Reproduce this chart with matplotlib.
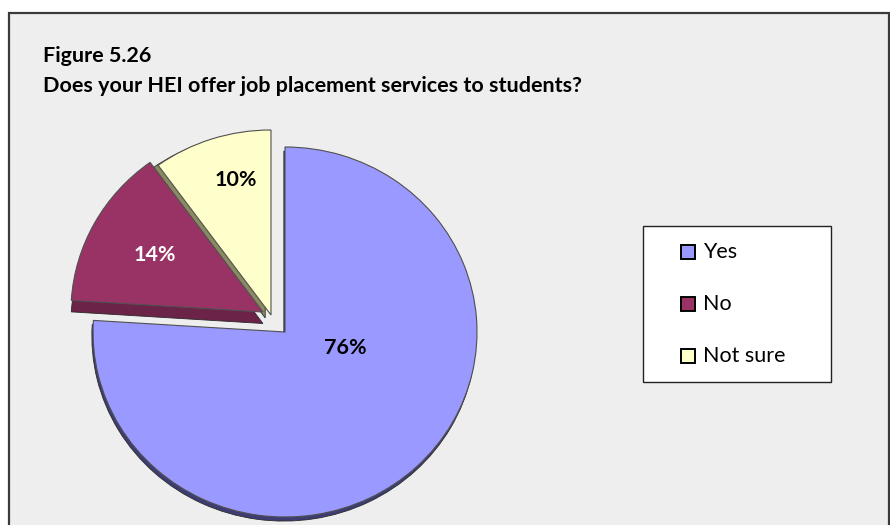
import matplotlib.pyplot as plt
from matplotlib.patches import Rectangle

# survey answers
categories = ["Yes", "No", "Not sure"]
shares = [76, 14, 10]

colors = ["#9999FF", "#993366", "#FFFFCC"]
side_colors = ["#3d3d73", "#6b2347", "#8a8a62"]
label_colors = ["black", "white", "black"]
# slice offsets (pie units) for the pulled-out slices and for their 3d sides
offsets = [(0.0, 0.0), (-0.115, 0.108), (-0.073, 0.092)]
side_shift = [(-0.006, -0.022), (0.0, -0.062), (-0.03, -0.016)]
label_pos = [(345, 348), (155, 255), (236, 180)]  # pixel positions of the % labels

title_lines = ["Figure 5.26", "Does your HEI offer job placement services to students?"]

W, H = 890, 525
plt.rcParams['font.family'] = ['Lato', 'DejaVu Sans']

fig = plt.figure(figsize=(W / 100, H / 100), dpi=100, facecolor="white")

# background axes in pixel units (y grows downward)
bg = fig.add_axes([0, 0, 1, 1], zorder=0)
bg.set_xlim(0, W)
bg.set_ylim(H, 0)
bg.axis("off")
bg.add_patch(Rectangle((9, 13), W - 10, H, facecolor="#EEEEEE",
                       edgecolor="#3a3a3a", lw=1.6))

# pie axes: centre at (285, 332) px, radius 192 px across, 185 px tall
cx, cy, rx, ry = 285, 332, 192, 185
lim = 1.3
pax = fig.add_axes([(cx - lim * rx) / W, ((H - cy) - lim * ry) / H,
                    2 * lim * rx / W, 2 * lim * ry / H], zorder=1)
pax.set_facecolor("none")

sides, _ = pax.pie(shares, colors=side_colors, startangle=90, counterclock=False,
                   wedgeprops=dict(edgecolor="#2a2a2a", linewidth=0.6))
tops, _ = pax.pie(shares, colors=colors, startangle=90, counterclock=False,
                  wedgeprops=dict(edgecolor="#505050", linewidth=0.8))
for s, t, (ox, oy), (sx, sy) in zip(sides, tops, offsets, side_shift):
    t.set_center((ox, oy))
    s.set_center((ox + sx, oy + sy))
pax.set_xlim(-lim, lim)
pax.set_ylim(-lim, lim)
pax.set_aspect("auto")
pax.axis("off")

# text and legend on top, pixel units
ax = fig.add_axes([0, 0, 1, 1], zorder=2)
ax.set_xlim(0, W)
ax.set_ylim(H, 0)
ax.axis("off")

# title, sized so the long line spans ~539 px
fig.canvas.draw()
r = fig.canvas.get_renderer()
probe = ax.text(0, 0, title_lines[1], fontsize=16, fontweight="bold")
tsize = 16 * 539 / probe.get_window_extent(r).width
probe.remove()
ax.text(43, 62, title_lines[0], fontsize=tsize, fontweight="bold", va="baseline")
ax.text(43, 92, title_lines[1], fontsize=tsize, fontweight="bold", va="baseline")

# percentage labels
for v, (x, y), c in zip(shares, label_pos, label_colors):
    ax.text(x, y, f"{v}%", fontsize=tsize, fontweight="bold", color=c,
            ha="center", va="center")

# legend box
ax.add_patch(Rectangle((643, 226), 188, 156, facecolor="white",
                       edgecolor="#222222", lw=1.0))
for i, (name, c) in enumerate(zip(categories, colors)):
    y = 252 + 52 * i
    ax.add_patch(Rectangle((681, y - 7), 14, 14, facecolor=c,
                           edgecolor="black", lw=1.4))
    ax.text(703, y, name, fontsize=tsize, va="center")

fig.savefig("out.png", dpi=100, facecolor="white")
